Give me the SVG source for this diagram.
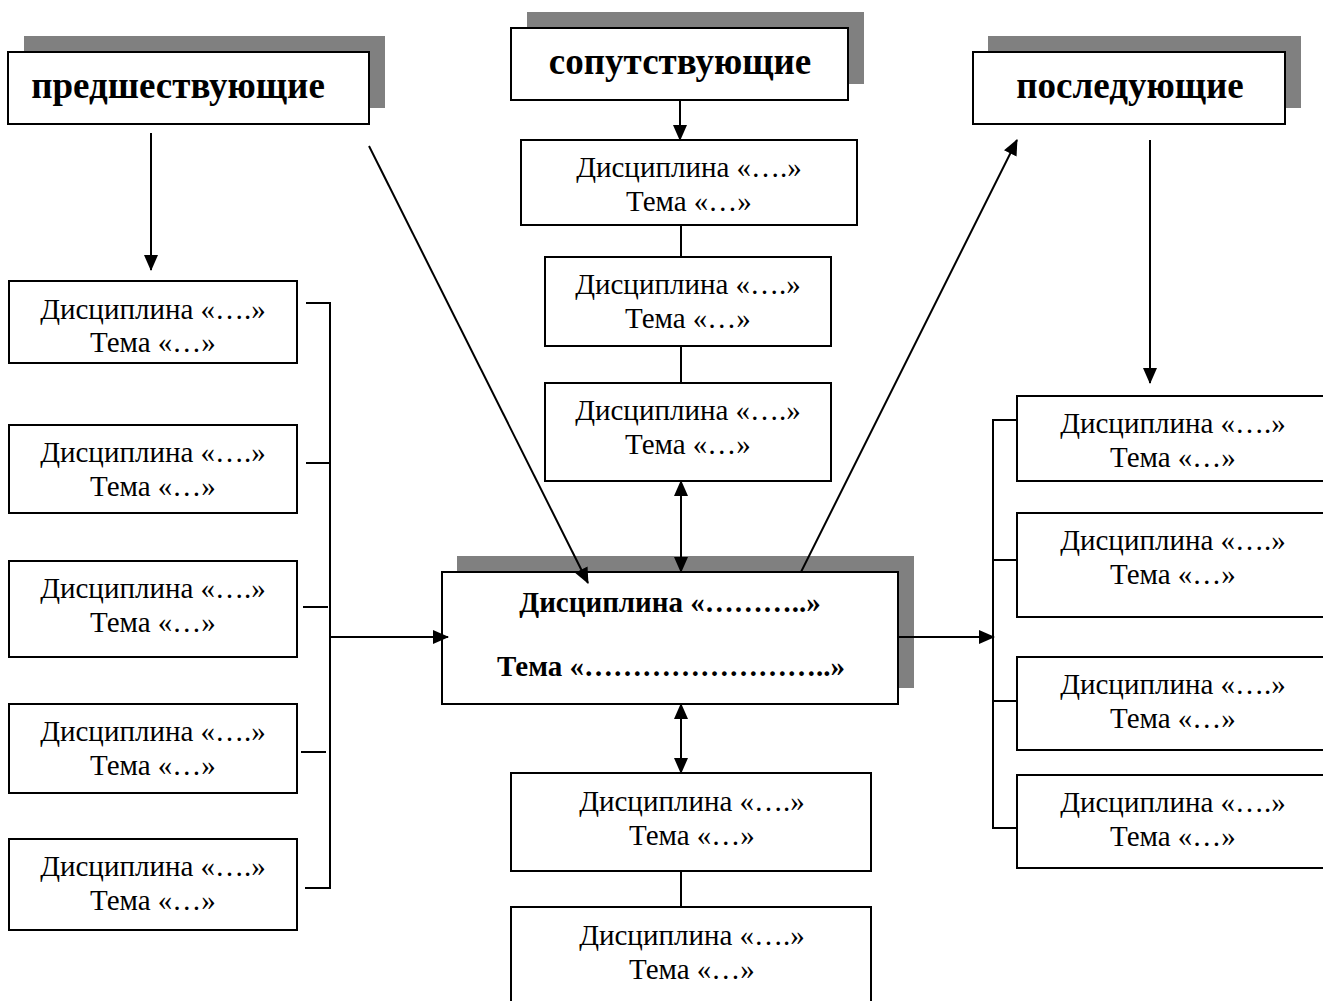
<svg xmlns="http://www.w3.org/2000/svg" width="1323" height="1001" viewBox="0 0 1323 1001">
<defs>
<marker id="ah" markerUnits="userSpaceOnUse" markerWidth="16" markerHeight="14" refX="15" refY="7" orient="auto-start-reverse" viewBox="0 0 16 14">
<path d="M0,0 L16,7 L0,14 Z" fill="#000"/>
</marker>
</defs>
<style>
.box{fill:#fff;stroke:#000;stroke-width:2}
.sh{fill:#808080}
.t{font-family:"Liberation Serif","Times New Roman",serif;font-size:29px;fill:#000;text-anchor:middle}
.h{font-family:"Liberation Serif","Times New Roman",serif;font-size:37px;font-weight:bold;fill:#000;text-anchor:middle}
.b{font-family:"Liberation Serif","Times New Roman",serif;font-size:29px;font-weight:bold;fill:#000;text-anchor:middle}
.ln{stroke:#000;stroke-width:2;fill:none}
.ar{stroke:#000;stroke-width:2;fill:none;marker-end:url(#ah)}
.dar{stroke:#000;stroke-width:2;fill:none;marker-end:url(#ah);marker-start:url(#ah)}
</style>
<rect width="1323" height="1001" fill="#fff"/>

<g id="h-pred">
<rect class="sh" x="24" y="36" width="361" height="72"/>
<rect class="box" x="8" y="52" width="361" height="72"/>
<text class="h" x="178" y="98">предшествующие</text>
</g>
<g id="h-sop">
<rect class="sh" x="527" y="12" width="337" height="72"/>
<rect class="box" x="511" y="28" width="337" height="72"/>
<text class="h" x="680" y="74">сопутствующие</text>
</g>
<g id="h-posl">
<rect class="sh" x="988" y="36" width="313" height="72"/>
<rect class="box" x="973" y="52" width="312" height="72"/>
<text class="h" x="1130" y="98">последующие</text>
</g>

<g id="main">
<rect class="sh" x="457" y="556" width="457" height="132"/>
<rect class="box" x="442" y="572" width="456" height="132"/>
<text class="b" x="670" y="612">Дисциплина «………..»</text>
<text class="b" x="671" y="676">Тема «……………………..»</text>
</g>

<g id="l1"><rect class="box" x="9" y="281" width="288" height="82"/><text class="t" x="153" y="319">Дисциплина «….»</text><text class="t" x="153" y="352">Тема «…»</text></g>
<g id="l2"><rect class="box" x="9" y="425" width="288" height="88"/><text class="t" x="153" y="462">Дисциплина «….»</text><text class="t" x="153" y="496">Тема «…»</text></g>
<g id="l3"><rect class="box" x="9" y="561" width="288" height="96"/><text class="t" x="153" y="598">Дисциплина «….»</text><text class="t" x="153" y="632">Тема «…»</text></g>
<g id="l4"><rect class="box" x="9" y="704" width="288" height="89"/><text class="t" x="153" y="741">Дисциплина «….»</text><text class="t" x="153" y="775">Тема «…»</text></g>
<g id="l5"><rect class="box" x="9" y="839" width="288" height="91"/><text class="t" x="153" y="876">Дисциплина «….»</text><text class="t" x="153" y="910">Тема «…»</text></g>

<g id="c1"><rect class="box" x="521" y="140" width="336" height="85"/><text class="t" x="689" y="177">Дисциплина «….»</text><text class="t" x="689" y="211">Тема «…»</text></g>
<g id="c2"><rect class="box" x="545" y="257" width="286" height="89"/><text class="t" x="688" y="294">Дисциплина «….»</text><text class="t" x="688" y="328">Тема «…»</text></g>
<g id="c3"><rect class="box" x="545" y="383" width="286" height="98"/><text class="t" x="688" y="420">Дисциплина «….»</text><text class="t" x="688" y="454">Тема «…»</text></g>

<g id="b1"><rect class="box" x="511" y="773" width="360" height="98"/><text class="t" x="692" y="811">Дисциплина «….»</text><text class="t" x="692" y="845">Тема «…»</text></g>
<g id="b2"><rect class="box" x="511" y="907" width="360" height="110"/><text class="t" x="692" y="945">Дисциплина «….»</text><text class="t" x="692" y="979">Тема «…»</text></g>

<g id="r1"><rect class="box" x="1017" y="396" width="320" height="85"/><text class="t" x="1173" y="433">Дисциплина «….»</text><text class="t" x="1173" y="467">Тема «…»</text></g>
<g id="r2"><rect class="box" x="1017" y="513" width="320" height="104"/><text class="t" x="1173" y="550">Дисциплина «….»</text><text class="t" x="1173" y="584">Тема «…»</text></g>
<g id="r3"><rect class="box" x="1017" y="657" width="320" height="93"/><text class="t" x="1173" y="694">Дисциплина «….»</text><text class="t" x="1173" y="728">Тема «…»</text></g>
<g id="r4"><rect class="box" x="1017" y="775" width="320" height="93"/><text class="t" x="1173" y="812">Дисциплина «….»</text><text class="t" x="1173" y="846">Тема «…»</text></g>

<g id="connectors">
<line class="ar" x1="151" y1="133" x2="151" y2="270"/>
<line class="ar" x1="369" y1="146" x2="588" y2="583"/>
<line class="ar" x1="680" y1="100" x2="680" y2="140"/>
<line class="ln" x1="681" y1="225" x2="681" y2="257"/>
<line class="ln" x1="681" y1="346" x2="681" y2="383"/>
<line class="dar" x1="681" y1="481" x2="681" y2="572"/>
<line class="ar" x1="801" y1="572" x2="1017" y2="140"/>
<line class="ar" x1="1150" y1="140" x2="1150" y2="383"/>
<line class="dar" x1="681" y1="704" x2="681" y2="773"/>
<line class="ln" x1="681" y1="871" x2="681" y2="907"/>
<path class="ln" d="M306,303 H330 V888 H305"/>
<line class="ln" x1="306" y1="463" x2="330" y2="463"/>
<line class="ln" x1="303" y1="607" x2="328" y2="607"/>
<line class="ln" x1="301" y1="752" x2="326" y2="752"/>
<line class="ar" x1="330" y1="637" x2="448" y2="637"/>
<path class="ln" d="M1017,420 H993 V828 H1017"/>
<line class="ln" x1="993" y1="560" x2="1017" y2="560"/>
<line class="ln" x1="993" y1="701" x2="1017" y2="701"/>
<line class="ar" x1="898" y1="637" x2="994" y2="637"/>
</g>
</svg>
